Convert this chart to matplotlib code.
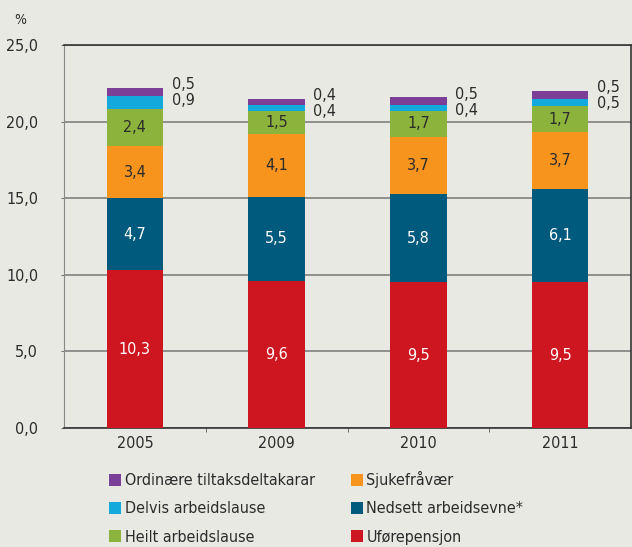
import numpy as np
import matplotlib.pyplot as plt
from matplotlib.patches import Patch

# DATA
aar = ['2005', '2009', '2010', '2011']
uforepensjon = [10.3, 9.6, 9.5, 9.5]
nedsett_arbeidsevne = [4.7, 5.5, 5.8, 6.1]
sjukefravaer = [3.4, 4.1, 3.7, 3.7]
heilt_arbeidslause = [2.4, 1.5, 1.7, 1.7]
delvis_arbeidslause = [0.9, 0.4, 0.4, 0.5]
ordinaere_tiltak = [0.5, 0.4, 0.5, 0.5]

serie_navn = ['Uførepensjon', 'Nedsett arbeidsevne*', 'Sjukefråvær',
              'Heilt arbeidslause', 'Delvis arbeidslause', 'Ordinære tiltaksdeltakarar']
serie_verdi = [uforepensjon, nedsett_arbeidsevne, sjukefravaer,
               heilt_arbeidslause, delvis_arbeidslause, ordinaere_tiltak]
farger = ['#CE1620', '#005A7E', '#F7941E', '#8CB43C', '#14A9DC', '#7B3F98']
tekstfarge_inne = ['white', 'white', '#2b2b2b', '#2b2b2b', None, None]

BAKGRUNN = '#E9E9E4'
TEKST = '#2b2b2b'
FS = 11.5

plt.rcParams['font.family'] = 'DejaVu Sans'
plt.rcParams['font.stretch'] = 'condensed'

fig = plt.figure(figsize=(6.32, 5.47), dpi=100, facecolor=BAKGRUNN)
ax = fig.add_axes([64 / 632, 119 / 547, 567 / 632, 383 / 547])
ax.set_facecolor(BAKGRUNN)

x = np.arange(len(aar))
bunn = np.zeros(len(aar))
for navn, verdi, farge, tf in zip(serie_navn, serie_verdi, farger, tekstfarge_inne):
    verdi = np.array(verdi)
    ax.bar(x, verdi, width=0.40, bottom=bunn, color=farge, zorder=3, label=navn)
    if tf is not None:
        for xi, b, v in zip(x, bunn, verdi):
            ax.text(xi, b + v / 2, f'{v:.1f}'.replace('.', ','), ha='center', va='center',
                    color=tf, fontsize=FS, zorder=4)
    bunn = bunn + verdi

# etikettar for dei to øvste segmenta, til høgre for søyla
for xi, total, d, o in zip(x, bunn, delvis_arbeidslause, ordinaere_tiltak):
    ax.text(xi + 0.26, total + 0.2, f'{o:.1f}'.replace('.', ','), ha='left', va='center',
            color=TEKST, fontsize=FS)
    ax.text(xi + 0.26, total - 0.85, f'{d:.1f}'.replace('.', ','), ha='left', va='center',
            color=TEKST, fontsize=FS)

ax.set_xlim(-0.5, 3.5)
ax.set_ylim(0, 25)
ax.set_yticks([0, 5, 10, 15, 20, 25])
ax.set_yticklabels([f'{v:.1f}'.replace('.', ',') for v in [0, 5, 10, 15, 20, 25]])
ax.set_xticks(x)
ax.set_xticklabels(aar)
ax.set_xticks([0.5, 1.5, 2.5], minor=True)
ax.tick_params(axis='x', which='major', length=0, pad=6, labelsize=FS, labelcolor=TEKST)
ax.tick_params(axis='x', which='minor', length=3, color='#555555', direction='out')
ax.tick_params(axis='y', length=2.5, pad=16, labelsize=FS, labelcolor=TEKST, color='#777777')
ax.yaxis.grid(True, color='#808080', linewidth=1.2, zorder=1)
ax.set_axisbelow(True)

for side in ['top', 'right', 'bottom']:
    ax.spines[side].set_color('#333333')
    ax.spines[side].set_linewidth(1.2)
ax.spines['left'].set_color('#888888')

fig.text(14 / 632, 1 - 20 / 547, '%', fontsize=10, color=TEKST, ha='left', va='center')

# legende: to kolonnar, omvendt rekkjefølgje
handles = [Patch(facecolor=f, edgecolor='none') for f in farger[::-1]]
fig.legend(handles, serie_navn[::-1], ncol=2, loc='upper left',
           bbox_to_anchor=(95 / 632, 1 - 457 / 547), frameon=False,
           fontsize=FS, handlelength=0.75, handleheight=0.75, handletextpad=0.2,
           labelspacing=0.82, columnspacing=2.3, labelcolor=TEKST)

fig.savefig('out.png', dpi=100, facecolor=BAKGRUNN)
